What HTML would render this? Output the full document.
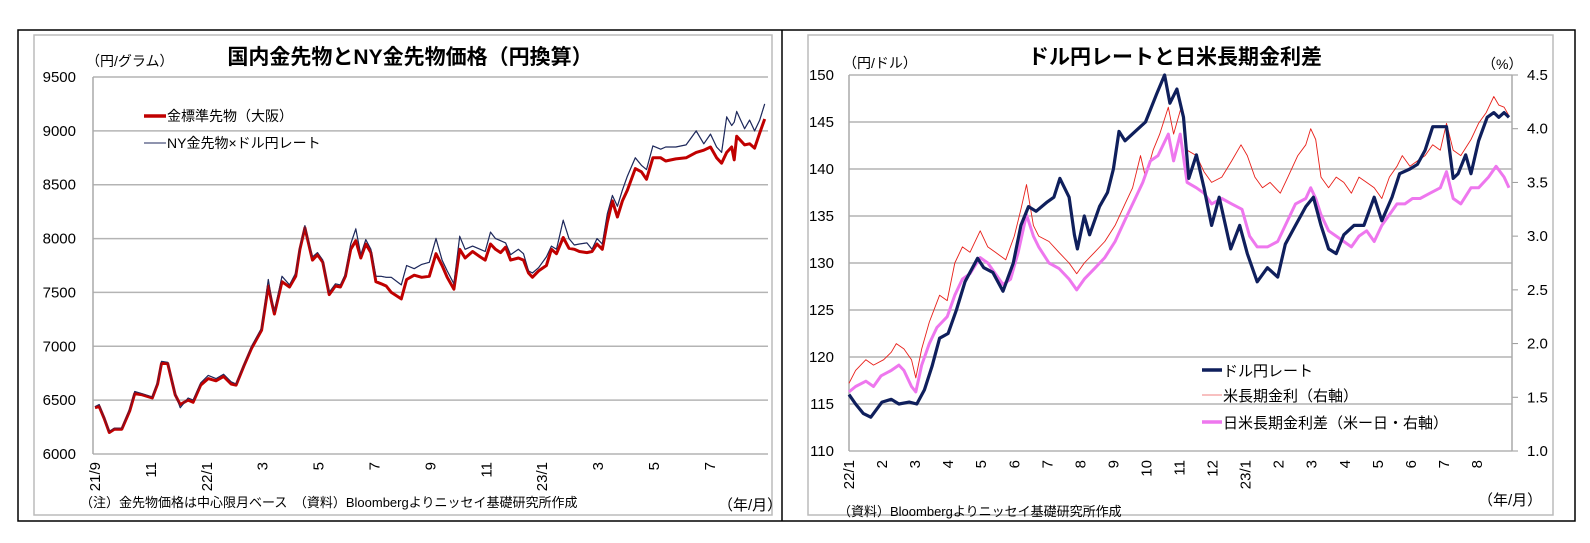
<!DOCTYPE html>
<html><head><meta charset="utf-8">
<style>
body{margin:0;background:#fff;width:1590px;height:543px;overflow:hidden}
svg{display:block;font-family:"Liberation Sans","Noto Sans CJK JP",sans-serif}
</style></head><body>
<svg id="s" width="1590" height="543">
<rect x="18" y="30" width="1557" height="491" fill="none" stroke="#000" stroke-width="1.5"/>
<line x1="782" y1="30" x2="782" y2="521" stroke="#000" stroke-width="1.5"/>
<rect x="34" y="35" width="738" height="480" fill="none" stroke="#bbb" stroke-width="1.5"/>
<rect x="808" y="35" width="745" height="480" fill="none" stroke="#bbb" stroke-width="1.5"/>
<g id="L"></g>
<g id="R"></g>
</svg>
<script>
// ---- left chart data (t = months since 2021/9) ----
const goldT=[0,0.15,0.33,0.51,0.69,0.96,1.24,1.42,1.69,2.05,2.24,2.38,2.6,2.87,3.05,3.33,3.51,3.78,4.05,4.33,4.6,4.87,5.05,5.33,5.6,5.96,6.2,6.33,6.42,6.69,6.96,7.18,7.33,7.51,7.69,7.78,7.96,8.15,8.38,8.6,8.78,8.96,9.15,9.33,9.51,9.69,9.87,10.05,10.24,10.42,10.6,10.96,11.15,11.42,11.69,11.96,12.2,12.42,12.6,12.84,13.05,13.24,13.51,13.78,13.96,14.15,14.33,14.51,14.69,14.87,15.15,15.33,15.51,15.65,15.87,16.15,16.33,16.51,16.75,16.96,17.15,17.33,17.6,17.78,17.96,18.15,18.33,18.51,18.69,18.87,19.05,19.33,19.55,19.73,19.96,20.24,20.42,20.78,21.15,21.51,21.78,22.02,22.24,22.42,22.6,22.78,22.87,22.96,23.24,23.42,23.6,23.78,23.96];
const goldOsaka=[6430,6440,6330,6200,6230,6230,6400,6560,6550,6520,6650,6840,6840,6550,6460,6500,6480,6640,6700,6680,6720,6650,6640,6820,6980,7150,7560,7400,7300,7600,7550,7650,7900,8100,7900,7800,7850,7780,7480,7560,7550,7650,7900,7980,7820,7950,7870,7600,7580,7560,7500,7440,7620,7660,7640,7650,7860,7750,7640,7530,7900,7820,7880,7830,7800,7950,7900,7870,7920,7800,7820,7800,7680,7640,7700,7750,7900,7860,8010,7910,7900,7880,7870,7880,7950,7900,8150,8350,8200,8350,8450,8650,8620,8550,8750,8750,8720,8740,8750,8800,8820,8850,8750,8700,8800,8850,8730,8950,8870,8880,8840,8980,9110];
const goldNY=[6440,6460,6340,6210,6240,6240,6420,6580,6560,6530,6670,6860,6850,6560,6430,6520,6500,6660,6730,6700,6740,6670,6650,6830,7000,7170,7620,7420,7320,7650,7570,7680,7920,8120,7920,7830,7870,7800,7500,7580,7570,7670,7950,8090,7850,7990,7900,7650,7650,7640,7640,7570,7750,7720,7760,7780,8000,7800,7700,7580,8020,7900,7930,7900,7880,8060,8000,7980,7960,7850,7900,7860,7700,7680,7730,7830,7930,7900,8170,8000,7940,7950,7960,7900,8000,7950,8230,8400,8300,8450,8580,8750,8680,8640,8860,8830,8850,8850,8870,9000,8880,8970,8850,8800,9130,9050,9080,9180,9020,9100,9000,9100,9250];
const goldYTicks=[6000,6500,7000,7500,8000,8500,9000,9500];
const goldXLabels=["21/9","11","22/1","3","5","7","9","11","23/1","3","5","7"];
// ---- right chart data (t = months since 2022/1) ----
const usdT=[0,0.2,0.43,0.66,1.0,1.28,1.51,1.82,2.05,2.28,2.51,2.74,3.0,3.25,3.51,3.66,3.89,4.08,4.35,4.66,4.97,5.2,5.43,5.66,6.0,6.2,6.38,6.66,6.82,6.91,7.12,7.28,7.58,7.82,8.0,8.17,8.35,8.66,8.97,9.31,9.55,9.71,9.92,10.12,10.28,10.51,10.74,10.97,11.2,11.55,11.82,12.05,12.35,12.66,12.97,13.2,13.51,13.82,14.05,14.28,14.51,14.74,14.97,15.28,15.58,15.89,16.12,16.43,16.66,16.97,17.2,17.43,17.66,17.89,18.08,18.28,18.43,18.66,18.82,19.05,19.31,19.51,19.66,19.82,19.97];
const usdJpy=[116,115,114,113.6,115.2,115.5,115,115.2,115,116.5,119,122,122.5,125,128,129,130.5,129.5,129,127,130,134,136,135.5,136.5,137,139,137,133,131.5,135,133,136,137.5,140,144,143,144,145,148,150,147,148.5,145.5,139,141.5,138,134,137,131.5,134,131,128,129.5,128.5,132,134,136,137,134,131.5,131,133,134,134,137,134.5,137,139.5,140,140.5,142,144.5,144.5,144.5,139,139.5,141.5,139.5,143,145.5,146,145.5,146,145.5];
const usT=[0,0.2,0.51,0.74,1.05,1.28,1.43,1.66,1.89,2.02,2.2,2.43,2.74,2.97,3.2,3.43,3.66,3.97,4.2,4.43,4.74,5.0,5.2,5.37,5.58,5.74,6.05,6.35,6.66,6.89,7.12,7.43,7.74,8.05,8.35,8.58,8.82,8.97,9.2,9.4,9.66,9.82,10.05,10.23,10.51,10.74,10.97,11.28,11.58,11.86,12.05,12.28,12.51,12.74,13.05,13.28,13.58,13.82,13.97,14.12,14.28,14.51,14.74,14.97,15.2,15.43,15.66,15.89,16.12,16.35,16.58,16.74,16.97,17.2,17.43,17.66,17.89,18.08,18.28,18.51,18.82,19.05,19.28,19.51,19.66,19.82,19.97];
const usYield=[1.63,1.75,1.85,1.8,1.85,1.92,2.0,1.95,1.85,1.68,1.95,2.2,2.45,2.4,2.75,2.9,2.85,3.05,2.9,2.85,2.78,3.0,3.25,3.48,3.1,3.0,2.95,2.85,2.75,2.65,2.75,2.85,2.95,3.1,3.3,3.45,3.75,3.55,3.8,3.95,4.2,3.95,4.2,3.8,3.75,3.6,3.5,3.55,3.7,3.85,3.75,3.55,3.45,3.5,3.4,3.55,3.75,3.85,4.0,3.9,3.55,3.45,3.55,3.5,3.4,3.55,3.5,3.45,3.35,3.55,3.65,3.75,3.65,3.7,3.75,3.85,3.8,4.05,3.8,3.75,3.9,4.05,4.15,4.3,4.22,4.2,4.12];
const sprT=[0,0.2,0.51,0.74,0.97,1.28,1.51,1.66,1.89,2.02,2.2,2.43,2.66,2.97,3.2,3.43,3.66,3.97,4.2,4.43,4.66,4.89,5.12,5.37,5.58,5.74,6.05,6.35,6.66,6.89,7.12,7.43,7.74,8.05,8.35,8.66,8.89,9.12,9.35,9.66,9.82,10.02,10.23,10.51,10.74,10.97,11.28,11.58,11.89,12.12,12.35,12.66,12.97,13.2,13.51,13.82,13.97,14.12,14.28,14.51,14.74,14.97,15.2,15.43,15.66,15.89,16.12,16.35,16.58,16.82,17.05,17.28,17.58,17.89,18.08,18.28,18.51,18.82,19.05,19.35,19.58,19.82,19.97];
const spread=[1.55,1.6,1.65,1.6,1.7,1.75,1.8,1.75,1.6,1.55,1.8,2.0,2.15,2.25,2.45,2.6,2.65,2.8,2.75,2.65,2.55,2.6,2.85,3.2,3.0,2.9,2.75,2.7,2.6,2.5,2.6,2.7,2.8,2.95,3.15,3.35,3.5,3.7,3.75,3.95,3.7,3.95,3.5,3.45,3.4,3.3,3.35,3.3,3.25,3.0,2.9,2.9,2.95,3.1,3.3,3.35,3.45,3.35,3.2,3.05,3.0,2.95,2.9,3.0,3.05,2.95,3.1,3.2,3.3,3.3,3.35,3.35,3.4,3.45,3.6,3.35,3.3,3.45,3.45,3.55,3.65,3.55,3.45];
const fxYTicks=[110,115,120,125,130,135,140,145,150];
const rateYTicks=["1.0","1.5","2.0","2.5","3.0","3.5","4.0","4.5"];
const fxXLabels=["22/1","2","3","4","5","6","7","8","9","10","11","12","23/1","2","3","4","5","6","7","8"];

const NS="http://www.w3.org/2000/svg";
function mk(parent,tag,attrs,text){const e=document.createElementNS(NS,tag);for(const k in attrs)e.setAttribute(k,attrs[k]);if(text!==undefined)e.textContent=text;parent.appendChild(e);return e;}
function pathD(ts,vs,fx,fy){return ts.map((t,i)=>(i?"L":"M")+fx(t).toFixed(1)+","+fy(vs[i]).toFixed(1)).join("");}

// ---------- LEFT ----------
const L=document.getElementById("L");
const lx0=95,lxm=27.95,lyTop=77,lyBot=454;
const lx=t=>lx0+t*lxm;
const ly=v=>lyBot-(v-6000)/3500*(lyBot-lyTop);
goldYTicks.forEach(v=>{
  const g=mk(L,"line",{x1:93,x2:768,y1:ly(v),y2:ly(v),stroke:"#b4b4b4","stroke-width":1.5});
  
  
  const t=mk(L,"text",{x:76,y:ly(v)+5,"text-anchor":"end","font-size":15},String(v));
  
  
});
const lax=mk(L,"line",{x1:93,x2:93,y1:lyTop,y2:lyBot,stroke:"#aaa","stroke-width":1.5});


goldXLabels.forEach((s,i)=>{
  const x=lx(i*2)+5;
  const t=mk(L,"text",{transform:`translate(${x},462) rotate(-90)`,"text-anchor":"end","font-size":15},s);
  
  
});
const pNY=mk(L,"path",{d:pathD(goldT,goldNY,lx,ly),fill:"none",stroke:"#1f2a5c","stroke-width":1.2,"stroke-linejoin":"round"});


const pOs=mk(L,"path",{d:pathD(goldT,goldOsaka,lx,ly),fill:"none",stroke:"#c00000","stroke-width":3,"stroke-linejoin":"round"});


const pNY2=mk(L,"path",{d:pathD(goldT,goldNY,lx,ly),fill:"none",stroke:"#1f2a5c","stroke-width":0.8,opacity:0.7});



// ---------- RIGHT ----------
const R=document.getElementById("R");
const rx0=849,rxm=33.05,ryTop=75,ryBot=451;
const rx=t=>rx0+t*rxm;
const ry=v=>ryBot-(v-110)/40*(ryBot-ryTop);
const ry2=v=>ryBot-(v-1.0)/3.5*(ryBot-ryTop);
fxYTicks.forEach(v=>{
  const g=mk(R,"line",{x1:849,x2:1512,y1:ry(v),y2:ry(v),stroke:"#b4b4b4","stroke-width":1.5});
  
  
  const t=mk(R,"text",{x:834,y:ry(v)+5,"text-anchor":"end","font-size":15},String(v));
  
  
});
rateYTicks.forEach(s=>{
  const v=parseFloat(s);
  const tk=mk(R,"line",{x1:1512,x2:1518,y1:ry2(v),y2:ry2(v),stroke:"#999","stroke-width":1});
  
  
  const t=mk(R,"text",{x:1527,y:ry2(v)+5,"font-size":15},s);
  
  
});
const ra1=mk(R,"line",{x1:849,x2:849,y1:ryTop,y2:ryBot,stroke:"#aaa","stroke-width":1.5});


const ra2=mk(R,"line",{x1:1512,x2:1512,y1:ryTop,y2:ryBot,stroke:"#aaa","stroke-width":1.5});


fxXLabels.forEach((s,i)=>{
  const x=rx(i)+5;
  const t=mk(R,"text",{transform:`translate(${x},460) rotate(-90)`,"text-anchor":"end","font-size":15},s);
  
  
});
const pUs=mk(R,"path",{d:pathD(usT,usYield,rx,ry2),fill:"none",stroke:"#e8201a","stroke-width":0.9,"stroke-linejoin":"round"});


const pSp=mk(R,"path",{d:pathD(sprT,spread,rx,ry2),fill:"none",stroke:"#ee77ee","stroke-width":3,"stroke-linejoin":"round"});


const pFx=mk(R,"path",{d:pathD(usdT,usdJpy,rx,ry),fill:"none",stroke:"#0f1f5c","stroke-width":3.2,"stroke-linejoin":"round"});


</script>
<svg width="1590" height="543" style="position:absolute;left:0;top:0">
<g font-family="Liberation Sans, Noto Sans CJK JP, sans-serif">
<text x="86" y="66" font-size="14">（円/グラム）</text>
<text x="410" y="64" font-size="21" font-weight="bold" text-anchor="middle">国内金先物とNY金先物価格（円換算）</text>
<line x1="144" y1="116" x2="166" y2="116" stroke="#c00000" stroke-width="3.5"/>
<text x="167" y="121" font-size="14">金標準先物（大阪）</text>
<line x1="144" y1="143" x2="166" y2="143" stroke="#1f2a5c" stroke-width="1"/>
<text x="167" y="148" font-size="14">NY金先物×ドル円レート</text>
<text x="80" y="507" font-size="13">（注）金先物価格は中心限月ベース　（資料）Bloombergよりニッセイ基礎研究所作成</text>
<text x="718" y="510" font-size="15">（年/月）</text>
<text x="843" y="68" font-size="14">（円/ドル）</text>
<text x="1175" y="64" font-size="21" font-weight="bold" text-anchor="middle">ドル円レートと日米長期金利差</text>
<text x="1482" y="69" font-size="14">（%）</text>
<line x1="1202" y1="370" x2="1222" y2="370" stroke="#0f1f5c" stroke-width="3.5"/>
<text x="1223" y="376" font-size="15">ドル円レート</text>
<line x1="1202" y1="395" x2="1222" y2="395" stroke="#f08080" stroke-width="1"/>
<text x="1223" y="401" font-size="15">米長期金利（右軸）</text>
<line x1="1202" y1="422" x2="1222" y2="422" stroke="#ee77ee" stroke-width="3.5"/>
<text x="1223" y="428" font-size="15">日米長期金利差（米ー日・右軸）</text>
<text x="838" y="516" font-size="13">（資料）Bloombergよりニッセイ基礎研究所作成</text>
<text x="1478" y="505" font-size="15">（年/月）</text>
</g></svg>
</body></html>
